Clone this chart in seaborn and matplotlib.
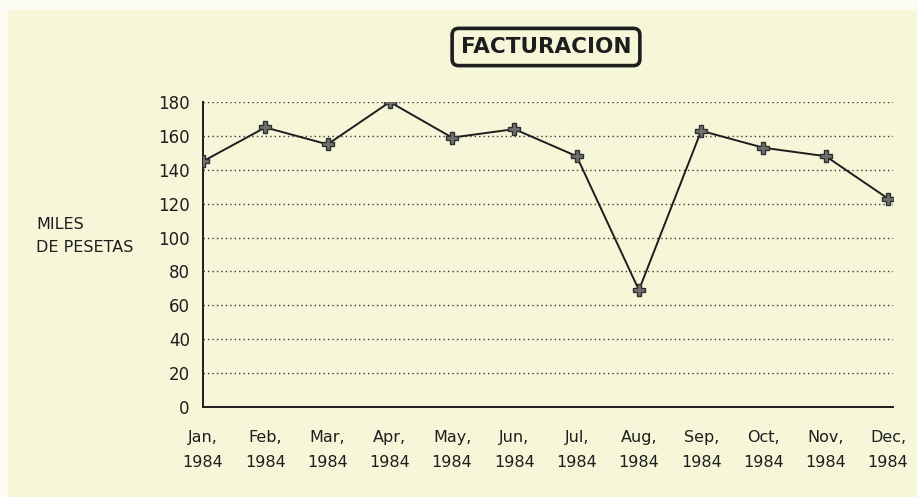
import matplotlib
matplotlib.use("Agg")
import matplotlib.pyplot as plt
from matplotlib.patches import Rectangle
import seaborn as sns
import pandas as pd

months = ["Jan", "Feb", "Mar", "Apr", "May", "Jun",
          "Jul", "Aug", "Sep", "Oct", "Nov", "Dec"]
year = "1984"
sales = [145, 165, 155, 180, 159, 164, 148, 69, 163, 153, 148, 123]
y_ticks = [0, 20, 40, 60, 80, 100, 120, 140, 160, 180]

df = pd.DataFrame({"pos": range(len(months)), "sales": sales})
tick_labels = [f"{m},\n{year}" for m in months]

sns.set_theme(style="white")
plt.rcParams["font.family"] = ["DejaVu Sans"]

paper = "#f6f6d9"
ink = "#1e1e1e"

fig = plt.figure(figsize=(9.17, 4.97), dpi=100, facecolor="#fbfbf4")
fig.patches.append(Rectangle((8 / 917, 0), 1, 1 - 10 / 497,
                             transform=fig.transFigure, facecolor=paper,
                             edgecolor="none", zorder=-10))

ax = fig.add_axes([203 / 917, 1 - 407 / 497, 690 / 917, 305 / 497])
ax.set_facecolor(paper)
ax.patch.set_alpha(0)

sns.lineplot(data=df, x="pos", y="sales", ax=ax, color=ink, linewidth=1.4,
             marker="P", markersize=9, markerfacecolor="#707070",
             markeredgecolor="#303030", markeredgewidth=1.0, zorder=5)

ax.set_xlim(0, 11.08)
ax.set_ylim(0, 180)
ax.set_yticks(y_ticks)
ax.set_xticks(range(len(months)))
ax.set_xticklabels(tick_labels, fontsize=11.5, color=ink, linespacing=1.85)
ax.set_yticklabels([str(v) for v in y_ticks], fontsize=12, color=ink)

for v in y_ticks[1:]:
    ax.axhline(v, color="#3a3a3a", linestyle=(0, (1, 2.2)), linewidth=1.0,
               zorder=1)

for side in ("top", "right"):
    ax.spines[side].set_visible(False)
for side in ("left", "bottom"):
    ax.spines[side].set_color(ink)
    ax.spines[side].set_linewidth(1.4)

ax.tick_params(axis="both", direction="inout", length=7, width=1.3,
               colors=ink, labelcolor=ink)
ax.tick_params(axis="y", pad=6)
ax.tick_params(axis="x", pad=13)
ax.set_xlabel("")
ax.set_ylabel("")

fig.text(36 / 917, 1 - 236 / 497, "MILES\nDE PESETAS", fontsize=11.5,
         color=ink, ha="left", va="center", linespacing=1.7)

fig.text(546 / 917, 1 - 47 / 497, "FACTURACION", fontsize=15.5,
         fontweight="bold", color=ink, ha="center", va="center",
         bbox=dict(boxstyle="round,pad=0.4,rounding_size=0.3",
                   facecolor=paper, edgecolor=ink, linewidth=2.6))

fig.savefig("out.png", dpi=100, facecolor=fig.get_facecolor())
